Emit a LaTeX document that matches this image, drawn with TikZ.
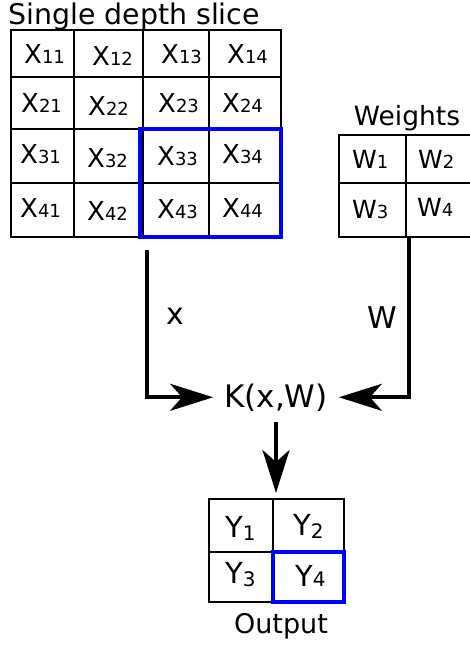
\documentclass[tikz,border=0pt]{standalone}
\usepackage{fontspec}
\setmainfont{DejaVu Sans}
\usetikzlibrary{arrows.meta}

\newcommand\setfs[1]{\fontsize{#1}{#1}\selectfont}
% letter with a small index set on (or a little under) the baseline
\newcommand\cx[1]{{\setfs{26}X}{\setfs{18}#1}}
\newcommand\cw[1]{{\setfs{25}W}{\setfs{18}#1}}
\newcommand\cy[2]{{\setfs{29}Y}{\setfs{20}\raisebox{#2}{#1}}}

\tikzset{
  gridline/.style={draw=black, line width=2.3pt},
  hl/.style={draw=blue, line width=3.8pt},
  cell/.style={anchor=base west, inner sep=0pt},
  caption/.style={anchor=base, inner sep=0pt},
  flow/.style={line width=3.6pt, -{Stealth[length=43pt,width=27pt,inset=12pt]}},
}

\begin{document}
\begin{tikzpicture}[x=1pt,y=-1pt]
\useasboundingbox (0,0) rectangle (470,645);
\clip (0,0) rectangle (470,645);

% ---- input slice ----
\node[anchor=base west, inner sep=0pt] (title) at (8,24) {\setfs{28.4}Single depth slice};
\draw[gridline] (11,30) rectangle (281,237);
\draw[gridline] (74,30) -- (74,237) (143,30) -- (143,237) (209,30) -- (209,237);
\draw[gridline] (11,77) -- (281,77) (11,129) -- (281,129) (11,183) -- (281,183);

\node[cell] (x11) at (24,63)  {\cx{11}};
\node[cell] (x12) at (92,65)  {\cx{12}};
\node[cell] (x13) at (161,63) {\cx{13}};
\node[cell] (x14) at (227,63) {\cx{14}};
\node[cell] (x21) at (21,112) {\cx{21}};
\node[cell] (x22) at (88,115) {\cx{22}};
\node[cell] (x23) at (158,112){\cx{23}};
\node[cell] (x24) at (222,112){\cx{24}};
\node[cell] (x31) at (20,163) {\cx{31}};
\node[cell] (x32) at (87,167) {\cx{32}};
\node[cell] (x33) at (157,165){\cx{33}};
\node[cell] (x34) at (222,163){\cx{34}};
\node[cell] (x41) at (20,217) {\cx{41}};
\node[cell] (x42) at (87,220) {\cx{42}};
\node[cell] (x43) at (157,218){\cx{43}};
\node[cell] (x44) at (222,217){\cx{44}};

\draw[hl] (140,129) rectangle (281,237);

% ---- weights ----
\node[caption] (wtitle) at (407,125) {\setfs{26.5}Weights};
\draw[gridline] (339,135) rectangle (480,237);
\draw[gridline] (406,135) -- (406,237) (339,183) -- (480,183);
\node[cell] (w1) at (352,168) {\cw{1}};
\node[cell] (w2) at (418,168) {\cw{2}};
\node[cell] (w3) at (352,218) {\cw{3}};
\node[cell] (w4) at (417,216) {\cw{4}};

% ---- kernel ----
\node[anchor=base, inner xsep=11pt, inner ysep=11pt] (K) at (276,407) {\setfs{31}K(x,W)};

\coordinate (xs) at (147,250);
\coordinate (ws) at (409,236);
\coordinate (yt) at (276,493);

\draw[flow] (xs) |- (K.west);
\draw[flow] (ws) |- (K.east);
\draw[flow] (K.south) -- (yt);

\node[caption] (xl) at (175,324) {\setfs{30}x};
\node[caption] (wl) at (382,328) {\setfs{30}W};

% ---- output ----
\draw[gridline] (209,499) rectangle (344,602);
\draw[gridline] (273,499) -- (273,602) (209,552) -- (344,552);
\node[cell] (y1) at (225,537) {\cy{1}{-3pt}};
\node[cell] (y2) at (293,535) {\cy{2}{-3pt}};
\node[cell] (y3) at (225,583) {\cy{3}{-3pt}};
\node[cell] (y4) at (295,586) {\cy{4}{0pt}};
\draw[hl] (273,552) rectangle (344,602);
\node[caption] (out) at (281,633) {\setfs{27}Output};
\end{tikzpicture}
\end{document}
